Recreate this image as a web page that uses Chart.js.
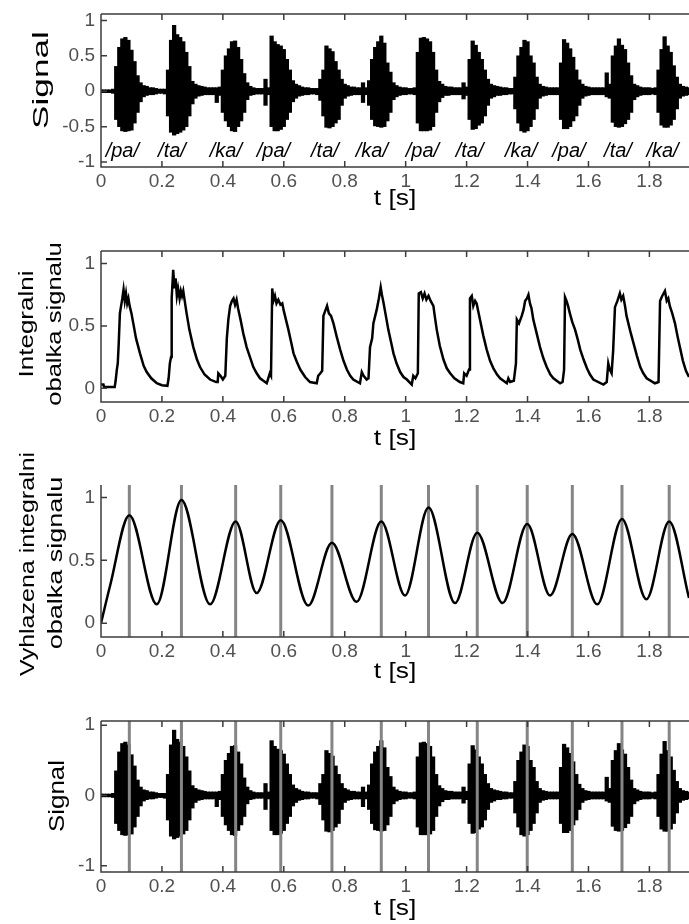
<!DOCTYPE html>
<html>
<head>
<meta charset="utf-8">
<script src="https://cdn.jsdelivr.net/npm/chart.js@4.4.1/dist/chart.umd.min.js"></script>
<style>
  body { margin: 0; background: #fff; }
  .panel { position: absolute; left: 0; width: 689px; }
  canvas { display: block; }
</style>
</head>
<body>
<div class="panel" style="top:0px"><canvas id="c1" width="689" height="215"></canvas></div>
<div class="panel" style="top:215px"><canvas id="c2" width="689" height="235"></canvas></div>
<div class="panel" style="top:440px"><canvas id="c3" width="689" height="245"></canvas></div>
<div class="panel" style="top:685px"><canvas id="c4" width="689" height="239"></canvas></div>
<script>
// speech signal envelope, one sample every 10 ms (upper and lower extent)
var sigStep = 0.01;
var sigHi = [
  0.02,0.02,0.02,0.02,0.03,0.35,0.62,0.74,0.76,0.72,
  0.58,0.42,0.22,0.12,0.08,0.07,0.05,0.05,0.04,0.03,
  0.03,0.03,0.30,0.72,0.93,0.80,0.76,0.70,0.55,0.35,
  0.14,0.10,0.08,0.07,0.06,0.05,0.05,0.05,0.05,0.06,
  0.30,0.50,0.60,0.70,0.71,0.62,0.45,0.25,0.12,0.07,
  0.05,0.04,0.04,0.04,0.17,0.05,0.78,0.70,0.66,0.64,
  0.59,0.45,0.30,0.15,0.10,0.08,0.06,0.05,0.05,0.04,
  0.04,0.04,0.17,0.30,0.64,0.60,0.56,0.42,0.30,0.17,
  0.10,0.08,0.06,0.06,0.05,0.05,0.12,0.05,0.15,0.45,
  0.62,0.70,0.78,0.68,0.40,0.27,0.12,0.08,0.06,0.05,
  0.05,0.04,0.04,0.05,0.55,0.75,0.76,0.74,0.70,0.55,
  0.30,0.14,0.10,0.07,0.06,0.06,0.05,0.05,0.05,0.12,
  0.06,0.45,0.71,0.65,0.55,0.45,0.30,0.17,0.10,0.08,
  0.07,0.06,0.05,0.05,0.04,0.04,0.20,0.50,0.62,0.72,
  0.70,0.50,0.40,0.20,0.10,0.07,0.06,0.05,0.05,0.05,
  0.05,0.40,0.73,0.68,0.60,0.48,0.30,0.16,0.10,0.07,
  0.06,0.05,0.05,0.05,0.05,0.05,0.26,0.10,0.50,0.64,
  0.74,0.65,0.59,0.40,0.22,0.10,0.08,0.06,0.05,0.05,
  0.05,0.04,0.05,0.30,0.59,0.77,0.64,0.55,0.36,0.20,
  0.10,0.07,0.06,0.05
];
var sigLo = [
  -0.02,-0.02,-0.02,-0.02,-0.03,-0.40,-0.50,-0.56,-0.57,-0.56,
  -0.55,-0.45,-0.30,-0.15,-0.08,-0.06,-0.05,-0.05,-0.04,-0.03,
  -0.03,-0.04,-0.35,-0.58,-0.62,-0.60,-0.58,-0.55,-0.50,-0.35,
  -0.18,-0.10,-0.07,-0.06,-0.05,-0.05,-0.05,-0.05,-0.16,-0.06,
  -0.30,-0.42,-0.50,-0.56,-0.57,-0.50,-0.42,-0.30,-0.12,-0.06,
  -0.05,-0.04,-0.04,-0.04,-0.20,-0.05,-0.50,-0.56,-0.56,-0.54,
  -0.50,-0.40,-0.30,-0.15,-0.10,-0.07,-0.06,-0.05,-0.05,-0.04,
  -0.04,-0.05,-0.13,-0.35,-0.51,-0.52,-0.50,-0.45,-0.40,-0.20,
  -0.10,-0.07,-0.06,-0.05,-0.05,-0.05,-0.16,-0.05,-0.20,-0.40,
  -0.49,-0.50,-0.51,-0.50,-0.42,-0.30,-0.12,-0.08,-0.06,-0.05,
  -0.05,-0.04,-0.04,-0.05,-0.45,-0.56,-0.56,-0.56,-0.55,-0.50,
  -0.30,-0.15,-0.09,-0.06,-0.06,-0.05,-0.05,-0.05,-0.05,-0.11,
  -0.06,-0.40,-0.54,-0.53,-0.48,-0.45,-0.35,-0.20,-0.10,-0.08,
  -0.06,-0.06,-0.05,-0.05,-0.04,-0.04,-0.25,-0.45,-0.56,-0.58,
  -0.56,-0.50,-0.40,-0.25,-0.10,-0.07,-0.06,-0.05,-0.05,-0.05,
  -0.05,-0.40,-0.53,-0.53,-0.50,-0.42,-0.35,-0.20,-0.10,-0.07,
  -0.06,-0.05,-0.05,-0.05,-0.05,-0.05,-0.08,-0.10,-0.44,-0.50,
  -0.51,-0.50,-0.46,-0.40,-0.30,-0.12,-0.08,-0.06,-0.05,-0.05,
  -0.05,-0.04,-0.05,-0.30,-0.48,-0.51,-0.51,-0.48,-0.40,-0.25,
  -0.10,-0.07,-0.06,-0.05
];

// integral envelope of the signal
var envT = [
  0.000,0.008,0.010,0.045,0.048,0.052,0.055,0.058,0.062,0.066,0.070,0.074,0.078,0.082,0.086,0.090,0.094,0.100,0.106,0.115,
  0.128,0.140,0.150,0.165,0.183,0.200,0.218,0.222,0.226,0.230,0.232,0.237,0.241,0.245,0.249,0.253,0.258,0.262,0.266,0.270,
  0.276,0.281,0.290,0.303,0.315,0.325,0.340,0.358,0.378,0.383,0.385,0.392,0.400,0.408,0.413,0.418,0.424,0.430,0.435,0.440,
  0.445,0.450,0.458,0.467,0.478,0.489,0.500,0.511,0.522,0.533,0.544,0.549,0.554,0.558,0.562,0.566,0.571,0.576,0.582,0.589,
  0.595,0.600,0.607,0.615,0.624,0.632,0.643,0.654,0.670,0.686,0.708,0.713,0.720,0.726,0.730,0.736,0.742,0.748,0.755,0.763,
  0.773,0.785,0.796,0.807,0.818,0.828,0.850,0.856,0.862,0.872,0.878,0.883,0.890,0.894,0.900,0.905,0.912,0.918,0.922,0.927,
  0.935,0.943,0.952,0.960,0.970,0.982,0.993,1.004,1.020,1.025,1.032,1.040,1.043,1.050,1.056,1.062,1.068,1.075,1.082,1.091,
  1.096,1.102,1.112,1.124,1.135,1.146,1.160,1.178,1.189,1.192,1.200,1.208,1.211,1.217,1.222,1.228,1.233,1.238,1.244,1.255,
  1.266,1.277,1.288,1.300,1.310,1.332,1.337,1.343,1.355,1.362,1.365,1.372,1.381,1.387,1.392,1.398,1.403,1.408,1.413,1.419,
  1.430,1.441,1.452,1.463,1.475,1.485,1.507,1.515,1.520,1.523,1.528,1.533,1.539,1.547,1.556,1.565,1.573,1.584,1.595,1.605,
  1.616,1.649,1.660,1.665,1.670,1.676,1.681,1.687,1.695,1.703,1.708,1.714,1.720,1.725,1.737,1.748,1.759,1.770,1.780,1.791,
  1.818,1.830,1.835,1.842,1.851,1.857,1.862,1.867,1.875,1.884,1.892,1.900,1.910,1.920,1.930
];
var envV = [
  0.03,0.03,0.01,0.01,0.06,0.15,0.20,0.35,0.60,0.66,0.72,0.79,0.70,0.76,0.68,0.72,0.66,0.60,0.52,0.40,
  0.28,0.18,0.13,0.08,0.04,0.025,0.02,0.08,0.20,0.25,0.72,0.95,0.80,0.88,0.74,0.80,0.72,0.78,0.74,0.78,
  0.68,0.60,0.47,0.33,0.23,0.17,0.11,0.07,0.05,0.05,0.12,0.10,0.07,0.10,0.40,0.55,0.66,0.70,0.72,0.67,
  0.71,0.64,0.55,0.44,0.33,0.25,0.17,0.12,0.08,0.06,0.04,0.08,0.12,0.10,0.80,0.70,0.74,0.68,0.71,0.67,
  0.68,0.62,0.55,0.47,0.37,0.28,0.21,0.15,0.09,0.05,0.04,0.10,0.12,0.14,0.58,0.62,0.66,0.60,0.58,0.52,
  0.42,0.31,0.22,0.15,0.10,0.07,0.04,0.13,0.10,0.07,0.08,0.33,0.40,0.52,0.58,0.63,0.72,0.81,0.75,0.69,
  0.58,0.47,0.37,0.28,0.20,0.13,0.09,0.07,0.03,0.10,0.08,0.12,0.76,0.77,0.72,0.76,0.71,0.74,0.70,0.66,
  0.57,0.47,0.34,0.23,0.16,0.12,0.08,0.05,0.04,0.12,0.10,0.15,0.72,0.74,0.66,0.70,0.68,0.62,0.55,0.42,
  0.31,0.22,0.16,0.11,0.08,0.04,0.08,0.05,0.06,0.20,0.55,0.52,0.58,0.63,0.70,0.72,0.75,0.68,0.64,0.55,
  0.44,0.33,0.24,0.17,0.11,0.08,0.04,0.05,0.15,0.73,0.70,0.66,0.60,0.53,0.47,0.39,0.31,0.23,0.16,0.11,
  0.07,0.03,0.05,0.20,0.15,0.12,0.30,0.65,0.70,0.76,0.71,0.74,0.66,0.58,0.46,0.36,0.26,0.17,0.12,0.08,
  0.04,0.05,0.70,0.74,0.78,0.70,0.72,0.66,0.60,0.52,0.42,0.33,0.22,0.14,0.09
];

// smoothed integral envelope: peaks and troughs
var smoothT = [0, 0.03, 0.093, 0.183, 0.264, 0.358, 0.442, 0.511, 0.590, 0.680, 0.758, 0.839, 0.920,
  0.998, 1.075, 1.162, 1.235, 1.318, 1.399, 1.474, 1.547, 1.629, 1.710, 1.790, 1.865, 1.930];
var smoothV = [0, 0.30, 0.86, 0.15, 0.98, 0.15, 0.81, 0.24, 0.82, 0.14, 0.64, 0.17, 0.81,
  0.22, 0.92, 0.16, 0.72, 0.16, 0.79, 0.22, 0.71, 0.15, 0.83, 0.19, 0.81, 0.20];

// detected syllable nuclei (grey markers)
var markT = [0.093, 0.264, 0.442, 0.590, 0.758, 0.920, 1.075, 1.235, 1.399, 1.547, 1.710, 1.865];

var syllables = ["/pa/", "/ta/", "/ka/", "/pa/", "/ta/", "/ka/", "/pa/", "/ta/", "/ka/", "/pa/", "/ta/", "/ka/"];
var syllT = [0.070, 0.233, 0.410, 0.566, 0.735, 0.889, 1.055, 1.210, 1.379, 1.536, 1.697, 1.843];

var xTicks = [0, 0.2, 0.4, 0.6, 0.8, 1, 1.2, 1.4, 1.6, 1.8];
var xTickLabels = ["0", "0.2", "0.4", "0.6", "0.8", "1", "1.2", "1.4", "1.6", "1.8"];
var ySigTicks = [-1, -0.5, 0, 0.5, 1];
var ySigTickLabels = ["-1", "-0.5", "0", "0.5", "1"];
var yEnvTicks = [0, 0.5, 1];
var yEnvTickLabels = ["0", "0.5", "1"];
var ySig2Ticks = [-1, 0, 1];
var ySig2TickLabels = ["-1", "0", "1"];

var FONT = "Arial, 'Liberation Sans', sans-serif";
var tickColor = "#505050";

// each 10 ms sample drawn as a floating bar from its lower to its upper extent
function signalBars() {
  return sigHi.map(function (h, i) { return { x: i * sigStep, y: [sigLo[i], h] }; });
}

function signalDataset() {
  return {
    type: "bar",
    data: signalBars(),
    backgroundColor: "#000",
    borderWidth: 0,
    barThickness: 3.6,
    grouped: false
  };
}

function pairs(xs, ys) {
  return xs.map(function (x, i) { return { x: x, y: ys[i] }; });
}

function markerPoints(lo, hi) {
  var pts = [];
  markT.forEach(function (t) {
    pts.push({ x: t, y: lo });
    pts.push({ x: t, y: hi });
    pts.push({ x: t, y: null });
  });
  return pts;
}

// MATLAB-like box with inward ticks
var framePlugin = {
  id: "frame",
  afterDatasetsDraw: function (chart, args, o) {
    var ctx = chart.ctx, a = chart.chartArea;
    var xs = chart.scales.x, ys = chart.scales.y;
    ctx.save();
    ctx.strokeStyle = "#3c3c3c";
    ctx.lineWidth = 1.5;
    ctx.beginPath();
    ctx.moveTo(a.left, a.top);
    ctx.lineTo(a.left, a.bottom);
    ctx.lineTo(a.right + 2, a.bottom);
    if (o.box) {
      ctx.moveTo(a.left, a.top);
      ctx.lineTo(a.right + 2, a.top);
    }
    xTicks.forEach(function (v) {
      var px = xs.getPixelForValue(v);
      ctx.moveTo(px, a.bottom);
      ctx.lineTo(px, a.bottom - 6);
      if (o.box) {
        ctx.moveTo(px, a.top);
        ctx.lineTo(px, a.top + 6);
      }
    });
    o.yTicks.forEach(function (v) {
      var py = ys.getPixelForValue(v);
      ctx.moveTo(a.left, py);
      ctx.lineTo(a.left + 6, py);
    });
    ctx.stroke();

    if (o.syll) {
      ctx.fillStyle = "#000";
      ctx.font = "italic 20px " + FONT;
      ctx.textAlign = "center";
      ctx.textBaseline = "middle";
      syllables.forEach(function (s, i) {
        ctx.fillText(s, xs.getPixelForValue(syllT[i]), ys.getPixelForValue(o.syllY));
      });
    }
    ctx.restore();
  }
};

// axis titles, stretched along the text like in the original figure
var titlePlugin = {
  id: "titles",
  afterDraw: function (chart, args, o) {
    var ctx = chart.ctx;
    o.items.forEach(function (it) {
      ctx.save();
      ctx.translate(it.x, it.y);
      ctx.rotate(it.rot * Math.PI / 180);
      ctx.scale(it.sx, 1);
      ctx.fillStyle = "#000";
      ctx.font = it.size + "px " + FONT;
      ctx.textAlign = "center";
      ctx.textBaseline = "middle";
      ctx.fillText(it.text, 0, 0);
      ctx.restore();
    });
  }
};

function makePanel(id, p) {
  return new Chart(document.getElementById(id), {
    type: "line",
    data: { datasets: p.datasets },
    plugins: [framePlugin, titlePlugin],
    options: {
      responsive: false,
      animation: false,
      events: [],
      layout: { padding: { top: p.padTop, left: 0, right: 0, bottom: 0 } },
      plugins: {
        legend: { display: false },
        tooltip: { enabled: false },
        frame: { box: p.box, yTicks: p.yTicks, syll: p.syll, syllY: -0.85 },
        titles: { items: p.titles }
      },
      elements: { point: { radius: 0 } },
      scales: {
        x: {
          type: "linear",
          min: 0,
          max: 1.93,
          offset: false,
          grid: { display: false, drawTicks: false },
          border: { display: false },
          afterBuildTicks: function (s) {
            s.ticks = xTicks.map(function (v) { return { value: v }; });
          },
          afterFit: function (s) {
            s.height = p.axisH;
            s.paddingLeft = 0;
            s.paddingRight = 0;
          },
          ticks: {
            autoSkip: false,
            maxRotation: 0,
            padding: 3,
            color: tickColor,
            font: { family: FONT, size: 19 },
            callback: function (v, i) { return xTickLabels[i]; }
          }
        },
        y: {
          type: "linear",
          min: p.yMin,
          max: p.yMax,
          grid: { display: false, drawTicks: false },
          border: { display: false },
          afterBuildTicks: function (s) {
            s.ticks = p.yTicks.map(function (v) { return { value: v }; });
          },
          afterFit: function (s) {
            s.width = 101;
            s.paddingTop = 0;
            s.paddingBottom = 0;
          },
          ticks: {
            autoSkip: false,
            padding: 6,
            color: tickColor,
            font: { family: FONT, size: 19 },
            callback: function (v, i) { return p.yLabels[i]; }
          }
        }
      }
    }
  });
}

window.onload = function () {
  makePanel("c1", {
    padTop: 14, axisH: 48, yMin: -1.07, yMax: 1.09, box: true, syll: true,
    yTicks: ySigTicks, yLabels: ySigTickLabels,
    datasets: [signalDataset()],
    titles: [
      { text: "Signal", x: 42, y: 80, rot: -90, size: 22, sx: 1.6 },
      { text: "t [s]", x: 395, y: 199, rot: 0, size: 22, sx: 1.2 }
    ]
  });

  makePanel("c2", {
    padTop: 36, axisH: 48, yMin: -0.11, yMax: 1.1, box: true,
    yTicks: yEnvTicks, yLabels: yEnvTickLabels,
    datasets: [
      { data: pairs(envT, envV), borderColor: "#000", borderWidth: 2.5, tension: 0 }
    ],
    titles: [
      { text: "Integralni", x: 27.5, y: 109, rot: -90, size: 20, sx: 1.3 },
      { text: "obalka signalu", x: 55.5, y: 109, rot: -90, size: 20, sx: 1.28 },
      { text: "t [s]", x: 395, y: 224, rot: 0, size: 22, sx: 1.2 }
    ]
  });

  makePanel("c3", {
    padTop: 45, axisH: 48, yMin: -0.11, yMax: 1.1, box: false,
    yTicks: yEnvTicks, yLabels: yEnvTickLabels,
    datasets: [
      { data: pairs(smoothT, smoothV), borderColor: "#000", borderWidth: 2.5, cubicInterpolationMode: "monotone" },
      { data: markerPoints(-0.11, 1.1), borderColor: "#858585", borderWidth: 3, spanGaps: false }
    ],
    titles: [
      { text: "Vyhlazena integralni", x: 28, y: 124, rot: -90, size: 20, sx: 1.25 },
      { text: "obalka signalu", x: 56.5, y: 123, rot: -90, size: 20, sx: 1.35 },
      { text: "t [s]", x: 395, y: 232, rot: 0, size: 22, sx: 1.2 }
    ]
  });

  makePanel("c4", {
    padTop: 36, axisH: 52, yMin: -1.09, yMax: 1.06, box: true,
    yTicks: ySig2Ticks, yLabels: ySig2TickLabels,
    datasets: [
      { data: markerPoints(-1.09, 1.06), borderColor: "#858585", borderWidth: 3, spanGaps: false },
      signalDataset()
    ],
    titles: [
      { text: "Signal", x: 57.5, y: 111, rot: -90, size: 22.5, sx: 1.15 },
      { text: "t [s]", x: 395, y: 224, rot: 0, size: 22, sx: 1.2 }
    ]
  });
};
</script>
</body>
</html>
